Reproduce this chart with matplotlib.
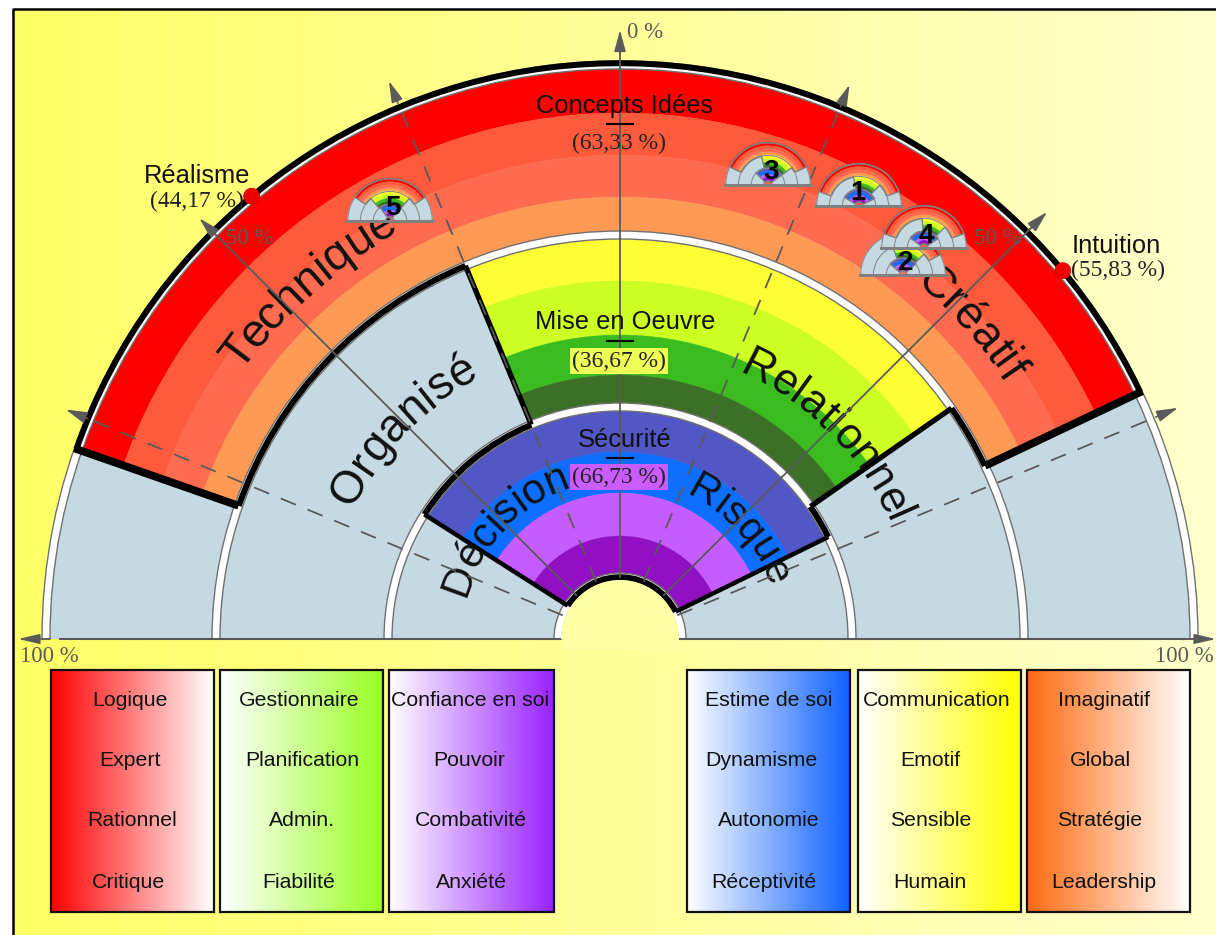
import numpy as np
import matplotlib
matplotlib.use("Agg")
import matplotlib.pyplot as plt
from matplotlib.patches import Wedge, Rectangle, Circle
from matplotlib.colors import LinearSegmentedColormap
from matplotlib.font_manager import FontProperties
from matplotlib.textpath import text_to_path

# scores (percent from the top, negative = left side)
outer_range = [-78.6, 71.8]
middle_range = [-25.0, 61.3]
inner_range = [-63.9, 71.0]

score_names = ["Concepts Idées", "Mise en Oeuvre", "Sécurité"]
score_values = ["(63,33 %)", "(36,67 %)", "(66,73 %)"]
side_names = ["Réalisme", "Intuition"]
side_values = [44.17, 55.83]
side_labels = ["(44,17 %)", "(55,83 %)"]

outer_colors = ["#FF0000", "#FF5A3C", "#FF6B4F", "#FF9A55"]
middle_colors = ["#FFFF33", "#CCFF22", "#3ABB1E", "#3D7027"]
inner_colors = ["#5257C6", "#0E6EFF", "#C45CFF", "#9110C4"]

legend_titles = [
    ["Logique", "Expert", "Rationnel", "Critique"],
    ["Gestionnaire", "Planification", "Admin.", "Fiabilité"],
    ["Confiance en soi", "Pouvoir", "Combativité", "Anxiété"],
    ["Estime de soi", "Dynamisme", "Autonomie", "Réceptivité"],
    ["Communication", "Emotif", "Sensible", "Humain"],
    ["Imaginatif", "Global", "Stratégie", "Leadership"],
]
legend_grads = [("#FF0000", "#FFFFFF"), ("#FFFFFF", "#99FF22"), ("#FFFFFF", "#9922FF"),
                ("#FFFFFF", "#0F62FF"), ("#FFFFFF", "#FFFF00"), ("#FF6A10", "#FFFFFF")]

# small gauges: label, outer, middle, inner ranges in percent
mini_labels = ["5", "3", "1", "2", "4"]
mini_outer = [[-62, 62], [-72, 72], [-78, 78], [-25, 68], [-78, 78]]
mini_middle = [[-45, 45], [-14, 60], [-12, 50], [-22, 50], [-4, 50]]
mini_inner = [[-40, 40], [-50, 60], [-66, 72], [-55, 55], [-60, 62]]

# layout, in pixels of the picture
W, H = 1216, 935
CX, CY = 620, 639
RADII = {"outer": [576, 526, 484, 442, 405], "middle": [404, 358, 304, 264, 232], "inner": [232, 187, 146, 103, 62]}
MINI_POS = [(390, 221), (768, 185), (859, 206), (903, 275), (924, 248)]
MINI_TXT = [(393, 208), (771, 172), (858, 193), (906, 263), (926, 236)]
MINI_SCALE = 43.0 / 576

GREY = "#5A5A5A"
BLUE = "#C5D9E2"
SANS = "Liberation Sans"
SERIF = "Liberation Serif"


def xy(px, py):
    return px - CX, CY - py


def ang(pct):
    return 90 - pct * 0.9


def diff_ranges(a, b):
    # parts of a not covered by b
    out = []
    if a[0] < b[0]:
        out.append([a[0], min(a[1], b[0])])
    if a[1] > b[1]:
        out.append([max(a[0], b[1]), a[1]])
    return out


def draw_gauge(ax, cx, cy, s, rng_o, rng_m, rng_i, z, mini=False):
    c = (cx, cy)
    ax.add_patch(Wedge(c, 572 * s, 0, 180, width=510 * s, fc=BLUE, ec="none", zorder=z))
    for key, cols, rng in [("outer", outer_colors, rng_o), ("middle", middle_colors, rng_m), ("inner", inner_colors, rng_i)]:
        radii = RADII[key]
        for i, col in enumerate(cols):
            ax.add_patch(Wedge(c, radii[i] * s, ang(rng[1]), ang(rng[0]), width=(radii[i] - radii[i + 1]) * s,
                               fc=col, ec=col, lw=0.3, zorder=z + 0.1))
    # separators between the rings
    for r in [574, 404, 232, 62]:
        if mini:
            ax.add_patch(Wedge(c, r * s, 0, 180, width=1.1, fc="#8A8A8A", ec="none", zorder=z + 0.2))
        else:
            ax.add_patch(Wedge(c, (r + 4) * s, 0, 180, width=8, fc="white", ec="#707070", lw=1.0, zorder=z + 0.2))
    # black edges where a coloured ring meets a grey one
    black = "#808080" if mini else "black"
    bw = 1.6 if mini else 6
    parts = [(576, rng_o), (62, rng_i)]
    parts += [(404, p) for p in diff_ranges(rng_o, rng_m) + diff_ranges(rng_m, rng_o)]
    parts += [(232, p) for p in diff_ranges(rng_m, rng_i) + diff_ranges(rng_i, rng_m)]
    for r, p in parts:
        ax.add_patch(Wedge(c, (r + 1) * s + bw / 2 * (0 if mini else 0.6), ang(p[1]), ang(p[0]), width=bw, fc=black, ec="none", zorder=z + 0.3))
    for rng, r0, r1, lw in [(rng_o, 404, 578, 5.6), (rng_m, 232, 404, 3.8), (rng_i, 62, 232, 3.2)]:
        for p in rng:
            t = np.radians(p * 0.9)
            ax.plot([cx + r0 * s * np.sin(t), cx + r1 * s * np.sin(t)], [cy + r0 * s * np.cos(t), cy + r1 * s * np.cos(t)],
                    color=black, lw=1.0 if mini else lw, solid_capstyle="butt", zorder=z + 0.3)
    if mini:
        ax.plot([cx - 576 * s, cx + 576 * s], [cy, cy], color="#808080", lw=2.2, zorder=z + 0.4)


def curved_text(ax, s, r, center_deg, size_px, z=5):
    prop = FontProperties(family=SANS, size=size_px * 0.72)
    widths = [text_to_path.get_text_width_height_descent(s[:i], prop, False)[0] / 0.72 for i in range(len(s) + 1)]
    total = widths[-1]
    for i, ch in enumerate(s):
        mid = (widths[i] + widths[i + 1]) / 2 - total / 2
        t = np.radians(center_deg) + mid / r
        ax.text(r * np.sin(t), r * np.cos(t), ch, rotation=-np.degrees(t), rotation_mode="anchor",
                ha="center", va="baseline", fontproperties=prop, color="#111111", zorder=z)


def axis_line(ax, pct, tip, dashed=False):
    t = np.radians(pct * 0.9)
    ux, uy = np.sin(t), np.cos(t)
    ax.plot([62 * ux, (tip - 20) * ux], [62 * uy, (tip - 20) * uy], color=GREY, lw=1.3,
            ls=(0, (9, 7)) if dashed else "-", zorder=6)
    ax.annotate("", xy=(tip * ux, tip * uy), xytext=((tip - 24) * ux, (tip - 24) * uy),
                arrowprops=dict(arrowstyle="-|>,head_length=1.3,head_width=0.35", color=GREY, lw=1.2, shrinkA=0, shrinkB=0), zorder=6)


fig = plt.figure(figsize=(W / 100, H / 100), dpi=100, facecolor="white")
ax = fig.add_axes([0, 0, 1, 1])
ax.axis("off")

# background
bg = LinearSegmentedColormap.from_list("bg", ["#FFFF66", "#FFFFCC"])
ax.imshow(np.linspace(0, 1, 256).reshape(1, -1), cmap=bg, extent=(13 - CX, W - CX, CY - H, CY - 9), aspect="auto", zorder=0)
ax.plot([13 - CX, 13 - CX, W - CX], [CY - H, CY - 9, CY - 9], color="black", lw=1.8, zorder=1)

draw_gauge(ax, 0, 0, 1, outer_range, middle_range, inner_range, 2)

# centre hole
ax.add_patch(Wedge((0, 0), 59, 0, 180, fc="#FFFFA6", ec="none", zorder=3))
ax.add_patch(Rectangle(xy(563, 650), 117, 12, fc="#FFFFA6", ec="none", zorder=3))

# curved ring titles
curved_text(ax, "Technique", 464, -41.5, 47)
curved_text(ax, "Créatif", 462, 48, 46)
curved_text(ax, "Organisé", 298, -46, 46)
curved_text(ax, "Relationnel", 292, 45.5, 44)
curved_text(ax, "Décision", 160, -46.5, 42)
curved_text(ax, "Risque", 158, 47.5, 41)

# axes
axis_line(ax, 0, 609)
axis_line(ax, -50, 595)
axis_line(ax, 50, 604)
for pct, tip in [(-25, 604), (25, 600), (-75, 600), (75, 604)]:
    axis_line(ax, pct, tip, dashed=True)
for x0, x1 in [(-560, -60), (60, 590)]:
    ax.plot([x0, x1], [0, 0], color=GREY, lw=1.5, zorder=6)
ax.annotate("", xy=xy(18, 639), xytext=xy(50, 639),
            arrowprops=dict(arrowstyle="-|>,head_length=1.3,head_width=0.3", color=GREY, lw=1.2, shrinkA=0, shrinkB=0), zorder=6)
ax.annotate("", xy=xy(1216, 639), xytext=xy(1190, 639),
            arrowprops=dict(arrowstyle="-|>,head_length=1.3,head_width=0.3", color=GREY, lw=1.2, shrinkA=0, shrinkB=0), zorder=6)

for txt, px, py, ha in [("0 %", 627, 32, "left"), ("50 %", 226, 238, "left"), ("50 %", 974, 238, "left"),
                        ("100 %", 20, 657, "left"), ("100 %", 1214, 657, "right")]:
    ax.text(*xy(px, py), txt, family=SERIF, fontsize=16.5, color=GREY, ha=ha, va="center", zorder=7)

# small gauges
for i, lab in enumerate(mini_labels):
    cx, cy = xy(*MINI_POS[i])
    draw_gauge(ax, cx, cy, MINI_SCALE, mini_outer[i], mini_middle[i], mini_inner[i], 8 + i, mini=True)
    ax.text(*xy(*MINI_TXT[i]), lab, family=SANS, fontsize=20, weight="bold", color="black", ha="center", va="center", zorder=8.8 + i)

# score ticks and labels
score_name_y = [106, 322, 440]
score_tick_y = [124, 341, 458]
score_val_y = [143, 361, 477]
score_bg = [None, "#EEFF55", "#C85CFF"]
for i in range(3):
    ax.text(*xy(625, score_name_y[i]), score_names[i], family=SANS, fontsize=18.4, color="#111111", ha="center", va="center", zorder=14)
    ax.plot([607 - CX, 633 - CX], [CY - score_tick_y[i]] * 2, color="black", lw=1.5, zorder=14)
    box = dict(fc=score_bg[i], ec="none", pad=1.5) if score_bg[i] else None
    ax.text(*xy(619, score_val_y[i]), score_values[i], family=SERIF, fontsize=16.9, color="#222222", ha="center", va="center", bbox=box, zorder=14)

# side points
for v in side_values:
    pct = -v if v < 50 else v
    t = np.radians(pct * 0.9)
    ax.add_patch(Circle((576 * np.sin(t), 576 * np.cos(t)), 8, fc="#EE0000", ec="#CC0000", lw=0.5, zorder=14))
ax.text(*xy(197, 176), side_names[0], family=SANS, fontsize=18.4, color="#111111", ha="center", va="center", zorder=14)
ax.text(*xy(197, 201), side_labels[0], family=SERIF, fontsize=16.9, color="#222222", ha="center", va="center", zorder=14)
ax.text(*xy(1072, 246), side_names[1], family=SANS, fontsize=18.4, color="#111111", ha="left", va="center", zorder=14)
ax.text(*xy(1071, 270), side_labels[1], family=SERIF, fontsize=16.9, color="#222222", ha="left", va="center", zorder=14)

# legend boxes
box_x = [(51, 214), (220, 383), (389, 554), (687, 850), (858, 1021), (1027, 1190)]
text_x = [[130, 130, 132, 129], [299, 302, 302, 299], [470, 469, 471, 471],
          [769, 761, 769, 764], [937, 930, 931, 930], [1104, 1100, 1100, 1104]]
text_y = [701, 761, 821, 882]
for i, (x0, x1) in enumerate(box_x):
    cm = LinearSegmentedColormap.from_list("g%d" % i, legend_grads[i])
    ax.imshow(np.linspace(0, 1, 256).reshape(1, -1), cmap=cm, extent=(x0 - CX, x1 - CX, CY - 912, CY - 670), aspect="auto", zorder=2)
    ax.add_patch(Rectangle(xy(x0, 912), x1 - x0, 242, fc="none", ec="#111111", lw=1.6, zorder=3))
    for name, px, py in zip(legend_titles[i], text_x[i], text_y):
        ax.text(*xy(px, py), name, family=SANS, fontsize=15.3, color="#111111", ha="center", va="center", zorder=4)

ax.set_xlim(-CX, W - CX)
ax.set_ylim(CY - H, CY)
fig.savefig("out.png", dpi=100, facecolor="white")
